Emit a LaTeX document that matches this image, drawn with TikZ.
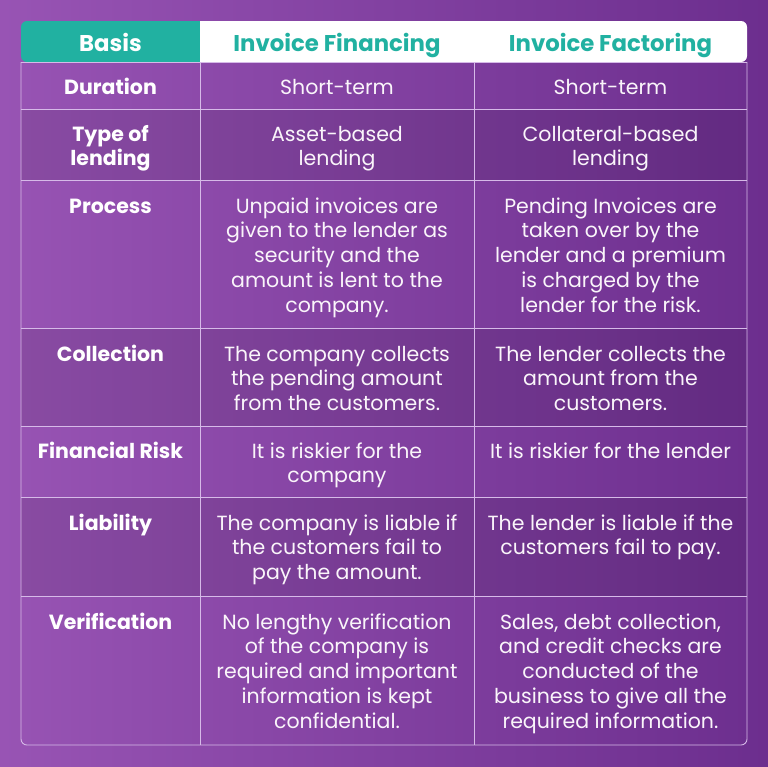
\documentclass[tikz,border=0pt]{standalone}
\usepackage{fontspec}
\setmainfont{Poppins}
\usetikzlibrary{positioning}
\definecolor{bgleft}{RGB}{152,84,180}
\definecolor{bgright}{RGB}{108,46,142}
\definecolor{headteal}{RGB}{33,177,161}
\definecolor{gridline}{RGB}{214,186,232}
\tikzset{
    basis/.style={
        anchor=north, inner sep=0pt, align=center, text=white, font=\fontsize{20.5}{24.8}\selectfont\bfseries
    },
    cell/.style={
        anchor=north, inner sep=0pt, align=center, text=white!96!violet, font=\fontsize{20.5}{24.8}\selectfont
    },
    headtext/.style={
        anchor=north, inner sep=0pt, align=center, text=headteal, font=\fontsize{22.8}{24.8}\selectfont\bfseries
    },
    rule/.style={
        draw=gridline, line width=0.9pt
    },
    darkrow/.style={
        fill=black, fill opacity=0.09
    }
}

\begin{document}
\begin{tikzpicture}[x=1pt, y=-1pt]

    % background
    \shade[left color=bgleft, right color=bgright] (0,0) rectangle (768,766);
    \useasboundingbox (0,0) rectangle (768,766);

    % darker rows
    \fill[darkrow] (21,109) rectangle (747,180);
    \fill[darkrow] (21,328) rectangle (747,426);
    \fill[darkrow] (21,497) rectangle (747,596);

    % header cells
    \fill[headteal, rounded corners=6pt] (21,62) -- (21,21) -- (200,21) -- (200,62) -- cycle;
    \fill[white, rounded corners=6pt] (200,62) -- (200,21) -- (747,21) -- (747,62) -- cycle;
    \fill[headteal] (150,21) rectangle (200,62);
    \fill[white] (200,21) rectangle (260,62);

    % grid
    \draw[rule, rounded corners=6pt] (21,62) -- (21,745) -- (747,745) -- (747,62);
    \draw[rule] (200,62) -- (200,745);
    \draw[rule] (474,62) -- (474,745);
    \foreach \y in {62,109,180,328,426,497,596}
        \draw[rule] (21,\y) -- (747,\y);

    % header
    \node (h-basis) [headtext, text=white] at (110.5,32.6) {\strut Basis};
    \node (h-fin) [headtext] at (337,32.6) {\strut Invoice Financing};
    \node (h-fac) [headtext] at (610.5,32.6) {\strut Invoice Factoring};

    % rows
    \node (dur) [basis] at (110.5,76.6) {\strut Duration};
    \node (dur-fin) [cell] at (337,76.6) {\strut Short-term};
    \node (dur-fac) [cell] at (610.5,76.6) {\strut Short-term};

    \node (type) [basis] at (110.5,123.6) {\strut Type of\\lending};
    \node (type-fin) [cell] at (337,123.6) {\strut Asset-based\\lending};
    \node (type-fac) [cell] at (610.5,123.6) {\strut Collateral-based\\lending};

    \node (proc) [basis] at (110.5,195.6) {\strut Process};
    \node (proc-fin) [cell] at (337,195.6) {\strut Unpaid invoices are\\given to the lender as\\security and the\\amount is lent to the\\company.};
    \node (proc-fac) [cell] at (610.5,195.6) {\strut Pending Invoices are\\taken over by the\\lender and a premium\\is charged by the\\lender for the risk.};

    \node (coll) [basis] at (110.5,343.6) {\strut Collection};
    \node (coll-fin) [cell] at (337,343.6) {\strut The company collects\\the pending amount\\from the customers.};
    \node (coll-fac) [cell] at (610.5,343.6) {\strut The lender collects the\\amount from the\\customers.};

    \node (risk) [basis] at (110.5,440.6) {\strut Financial Risk};
    \node (risk-fin) [cell] at (337,440.6) {\strut It is riskier for the\\company};
    \node (risk-fac) [cell] at (610.5,440.6) {\strut It is riskier for the lender};

    \node (liab) [basis] at (110.5,512.6) {\strut Liability};
    \node (liab-fin) [cell] at (337,512.6) {\strut The company is liable if\\the customers fail to\\pay the amount.};
    \node (liab-fac) [cell] at (610.5,512.6) {\strut The lender is liable if the\\customers fail to pay.};

    \node (verif) [basis] at (110.5,611.6) {\strut Verification};
    \node (verif-fin) [cell] at (337,611.6) {\strut No lengthy verification\\of the company is\\required and important\\information is kept\\confidential.};
    \node (verif-fac) [cell] at (610.5,611.6) {\strut Sales, debt collection,\\and credit checks are\\conducted of the\\business to give all the\\required information.};

\end{tikzpicture}
\end{document}
